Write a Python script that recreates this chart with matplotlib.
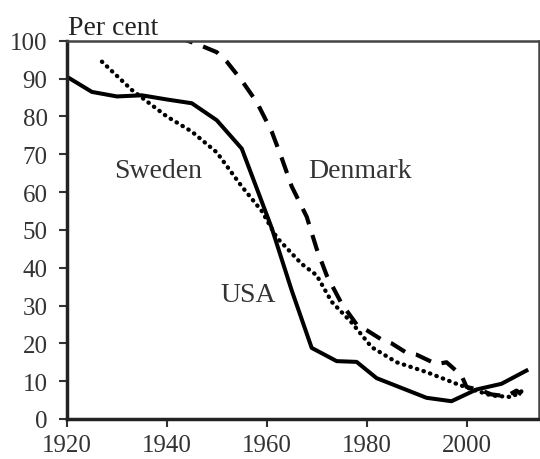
import matplotlib
matplotlib.use("Agg")
import matplotlib.pyplot as plt

plt.rcParams['font.family'] = ['Liberation Serif', 'DejaVu Serif']

usa_years = [1920, 1925, 1930, 1935, 1940, 1945, 1950, 1955, 1958, 1961, 1965, 1969,
             1974, 1978, 1982, 1987, 1992, 1997, 2002, 2007, 2012]
usa_vals = [90.5, 86.5, 85.3, 85.6, 84.5, 83.5, 79.0, 71.5, 61.0, 50.5, 34.0, 18.8,
            15.3, 15.1, 10.8, 8.2, 5.6, 4.7, 7.8, 9.3, 12.8]

swe_years = [1927, 1933, 1940, 1945, 1950, 1955, 1959, 1962, 1967, 1970, 1973, 1977,
             1981, 1986, 1992, 1998, 2001, 2005, 2009, 2011]
swe_vals = [94.5, 87.0, 80.0, 76.0, 70.5, 61.5, 55.0, 48.0, 41.0, 38.0, 31.0, 25.5,
            19.0, 15.0, 12.4, 9.3, 7.9, 6.2, 5.8, 7.3]

den_years = [1942, 1946, 1950, 1952, 1955, 1958, 1961, 1963, 1965, 1968, 1970, 1972,
             1975, 1978, 1980, 1983, 1985, 1988, 1990, 1994, 1996, 1999, 2000, 2003,
             2005, 2008, 2010, 2011]
den_vals = [101.0, 99.2, 97.0, 94.5, 89.5, 83.8, 76.0, 69.0, 61.5, 53.5, 45.0, 38.0,
            30.5, 25.0, 23.5, 21.0, 20.0, 17.5, 17.0, 14.5, 15.0, 11.5, 8.5, 7.5,
            6.5, 6.0, 7.5, 6.5]

labels = {"Sweden": (1938.3, 65.6), "Denmark": (1978.7, 65.6), "USA": (1956.2, 33.0)}
y_ticks = list(range(0, 101, 10))
x_ticks = [1920, 1940, 1960, 1980, 2000]

fig = plt.figure(figsize=(5.4, 4.6), dpi=100)
ax = fig.add_axes([0.124, 0.087, 0.874, 0.822])

ax.plot(usa_years, usa_vals, color='black', lw=2.9, solid_joinstyle='round')
ax.plot(swe_years, swe_vals, color='black', lw=3.1, linestyle=(0, (0.1, 1.5)),
        dash_capstyle='round')
ax.plot(den_years, den_vals, color='black', lw=3.0, linestyle=(0, (4.0, 2.7)))

ax.set_xlim(1920, 2014.5)
ax.set_ylim(0, 100)
ax.set_xticks(x_ticks)
ax.set_yticks(y_ticks)
ax.tick_params(direction='out', length=6, width=1.5, labelsize=18,
               colors='#333333')
ax.tick_params(axis='y', pad=8)
ax.tick_params(axis='x', pad=5)

for s in ['left', 'bottom']:
    ax.spines[s].set_linewidth(2.5)
    ax.spines[s].set_color('#222222')
for s in ['top', 'right']:
    ax.spines[s].set_linewidth(1.8)
    ax.spines[s].set_color('#444444')

for name, (x, y) in labels.items():
    ax.text(x, y, name, fontsize=20, color='#333333', ha='center', va='center')

ax.text(0.002, 1.0185, "Per cent", transform=ax.transAxes, fontsize=20,
        color='#222222', ha='left', va='baseline')

fig.savefig("out.png", dpi=100)
